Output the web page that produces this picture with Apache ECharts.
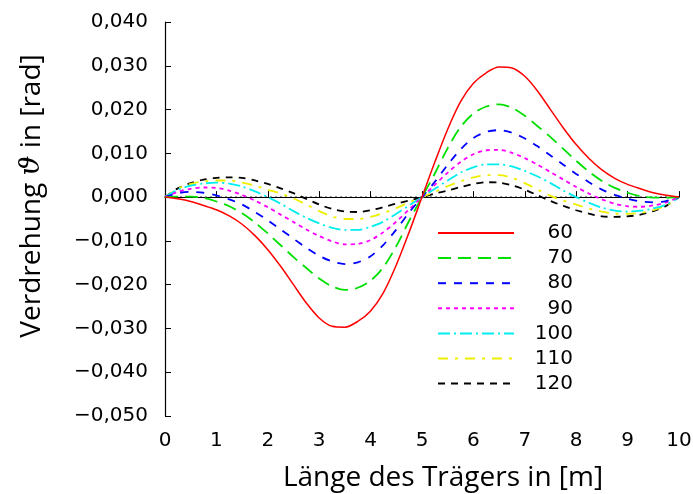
<!DOCTYPE html>
<html>
<head>
<meta charset="utf-8">
<script src="https://cdn.jsdelivr.net/npm/echarts@6/dist/echarts.min.js"></script>
<style>
  html, body { margin: 0; padding: 0; background: #fff; }
  #chart { width: 693px; height: 494px; }
</style>
</head>
<body>
<div id="chart"></div>
<script>
// positions along the beam [m]
const xs = [0, 0.25, 0.5, 0.75, 1, 1.25, 1.5, 1.75, 2, 2.25, 2.5, 2.75, 3, 3.25, 3.5, 3.75, 4, 4.25, 4.5, 4.75,
  5, 5.25, 5.5, 5.75, 6, 6.25, 6.5, 6.75, 7, 7.25, 7.5, 7.75, 8, 8.25, 8.5, 8.75, 9, 9.25, 9.5, 9.75, 10]

// twist angle [rad]
const v60 = [0, -0.0004, -0.0010, -0.0019, -0.0029, -0.0043, -0.0062, -0.0088, -0.0120, -0.0158, -0.0200, -0.0242, -0.0276, -0.0295, -0.0297, -0.0284, -0.0260, -0.0218, -0.0155, -0.0080,
  0, 0.0080, 0.0155, 0.0218, 0.0260, 0.0284, 0.0297, 0.0295, 0.0276, 0.0242, 0.0200, 0.0158, 0.0120, 0.0088, 0.0062, 0.0043, 0.0029, 0.0019, 0.0010, 0.0004, 0]
const v70 = [0, 0.0001, 0.0001, -0.0002, -0.0010, -0.0021, -0.0037, -0.0058, -0.0083, -0.0110, -0.0137, -0.0162, -0.0186, -0.0204, -0.0212, -0.0207, -0.0191, -0.0160, -0.0112, -0.0054,
  0, 0.0054, 0.0112, 0.0160, 0.0191, 0.0207, 0.0212, 0.0204, 0.0186, 0.0162, 0.0137, 0.0110, 0.0083, 0.0058, 0.0037, 0.0021, 0.0010, 0.0002, -0.0001, -0.0001, 0]
const v80 = [0, 0.0009, 0.0012, 0.0010, 0.0004, -0.0005, -0.0017, -0.0034, -0.0053, -0.0074, -0.0095, -0.0116, -0.0134, -0.0147, -0.0153, -0.0149, -0.0135, -0.0109, -0.0074, -0.0035,
  0, 0.0035, 0.0074, 0.0109, 0.0135, 0.0149, 0.0153, 0.0147, 0.0134, 0.0116, 0.0095, 0.0074, 0.0053, 0.0034, 0.0017, 0.0005, -0.0004, -0.0010, -0.0012, -0.0009, 0]
const v90 = [0, 0.0012, 0.0019, 0.0022, 0.0021, 0.0015, 0.0005, -0.0008, -0.0023, -0.0040, -0.0057, -0.0074, -0.0089, -0.0101, -0.0108, -0.0107, -0.0098, -0.0080, -0.0056, -0.0028,
  0, 0.0028, 0.0056, 0.0080, 0.0098, 0.0107, 0.0108, 0.0101, 0.0089, 0.0074, 0.0057, 0.0040, 0.0023, 0.0008, -0.0005, -0.0015, -0.0021, -0.0022, -0.0019, -0.0012, 0]
const v100 = [0, 0.0017, 0.0026, 0.0031, 0.0033, 0.0031, 0.0024, 0.0013, 0.0000, -0.0015, -0.0032, -0.0047, -0.0060, -0.0070, -0.0075, -0.0075, -0.0068, -0.0056, -0.0038, -0.0019,
  0, 0.0019, 0.0038, 0.0056, 0.0068, 0.0075, 0.0075, 0.0070, 0.0060, 0.0047, 0.0032, 0.0015, 0.0000, -0.0013, -0.0024, -0.0031, -0.0033, -0.0031, -0.0026, -0.0017, 0]
const v110 = [0, 0.0019, 0.0030, 0.0036, 0.0038, 0.0038, 0.0033, 0.0026, 0.0017, 0.0008, -0.0003, -0.0017, -0.0032, -0.0044, -0.0050, -0.0050, -0.0045, -0.0036, -0.0025, -0.0012,
  0, 0.0012, 0.0025, 0.0036, 0.0045, 0.0050, 0.0050, 0.0044, 0.0032, 0.0017, 0.0003, -0.0008, -0.0017, -0.0026, -0.0033, -0.0038, -0.0038, -0.0036, -0.0030, -0.0019, 0]
const v120 = [0, 0.0020, 0.0032, 0.0040, 0.0044, 0.0045, 0.0044, 0.0038, 0.0030, 0.0020, 0.0009, -0.0004, -0.0017, -0.0027, -0.0033, -0.0034, -0.0030, -0.0023, -0.0015, -0.0008,
  0, 0.0008, 0.0015, 0.0023, 0.0030, 0.0034, 0.0033, 0.0027, 0.0017, 0.0004, -0.0009, -0.0020, -0.0030, -0.0038, -0.0044, -0.0045, -0.0044, -0.0040, -0.0032, -0.0020, 0]

const names = ['60', '70', '80', '90', '100', '110', '120']
const values = [v60, v70, v80, v90, v100, v110, v120]
const colors = ['#ff0000', '#00e000', '#0000ff', '#ff00ff', '#00eeee', '#eeee00', '#000000']
const dashes = ['solid', [13, 7], [8, 8], [4, 4], [12, 4, 2, 4], [10, 7, 3, 7], [7, 6]]

const fmt = v => {
  const s = Math.abs(v).toFixed(3).replace('.', ',')
  return (v < -1e-9 ? '\u2212' : '') + s
}

const series = names.map((n, i) => ({
  name: n,
  type: 'line',
  smooth: 0.3,
  symbol: 'none',
  data: xs.map((x, j) => [x, values[i][j]]),
  lineStyle: { color: colors[i], width: i === 0 ? 1.5 : 1.8, type: dashes[i] },
  itemStyle: { color: colors[i] },
  z: 10 - i
}))

// dotted zero line
series.push({
  name: 'zero',
  type: 'line',
  symbol: 'none',
  silent: true,
  data: [[0, 0], [10, 0]],
  lineStyle: { color: '#000', width: 1, type: [2, 3] },
  z: 1
})

const option = {
  animation: false,
  backgroundColor: '#fff',
  textStyle: { fontFamily: 'DejaVu Sans' },
  grid: { left: 165, right: 14, top: 22, bottom: 78, outerBoundsMode: 'none' },
  legend: {
    data: names,
    orient: 'vertical',
    left: 437,
    top: 223,
    padding: 0,
    itemWidth: 76,
    itemHeight: 14,
    itemGap: 5.1,
    itemStyle: { opacity: 0 },
    formatter: n => '{a|' + n + '}',
    textStyle: {
      rich: {
        a: { width: 54, align: 'right', fontSize: 20, lineHeight: 20, color: '#000', fontFamily: 'DejaVu Sans' }
      }
    }
  },
  xAxis: {
    type: 'value',
    min: 0,
    max: 10,
    interval: 1,
    name: 'Länge des Trägers in [m]',
    nameLocation: 'middle',
    nameGap: 48,
    nameTextStyle: { fontSize: 28, color: '#000', fontFamily: 'Open Sans', padding: [0, 0, 0, 42] },
    axisLine: { lineStyle: { color: '#000', width: 1.2 } },
    axisTick: { inside: true, length: 6, lineStyle: { color: '#000' } },
    axisLabel: { fontSize: 20, color: '#000', margin: 15 },
    splitLine: { show: false }
  },
  yAxis: {
    type: 'value',
    min: -0.05,
    max: 0.04,
    interval: 0.01,
    name: '{n|Verdrehung }{m|\u03d1}{n| in [rad]}',
    nameLocation: 'middle',
    nameGap: 119,
    nameTextStyle: {
      padding: [0, 0, 0, 46],
      rich: {
        n: { fontSize: 28, color: '#000', fontFamily: 'Open Sans' },
        m: { fontSize: 28, color: '#000', fontStyle: 'italic', fontFamily: 'DejaVu Serif' }
      }
    },
    axisLine: { show: true, lineStyle: { color: '#000', width: 1.2 } },
    axisTick: { show: true, inside: true, length: 6, lineStyle: { color: '#000' } },
    axisLabel: { fontSize: 20, color: '#000', margin: 17, formatter: fmt },
    splitLine: { show: false }
  },
  series: series
}

echarts.init(document.getElementById('chart')).setOption(option)
</script>
</body>
</html>
